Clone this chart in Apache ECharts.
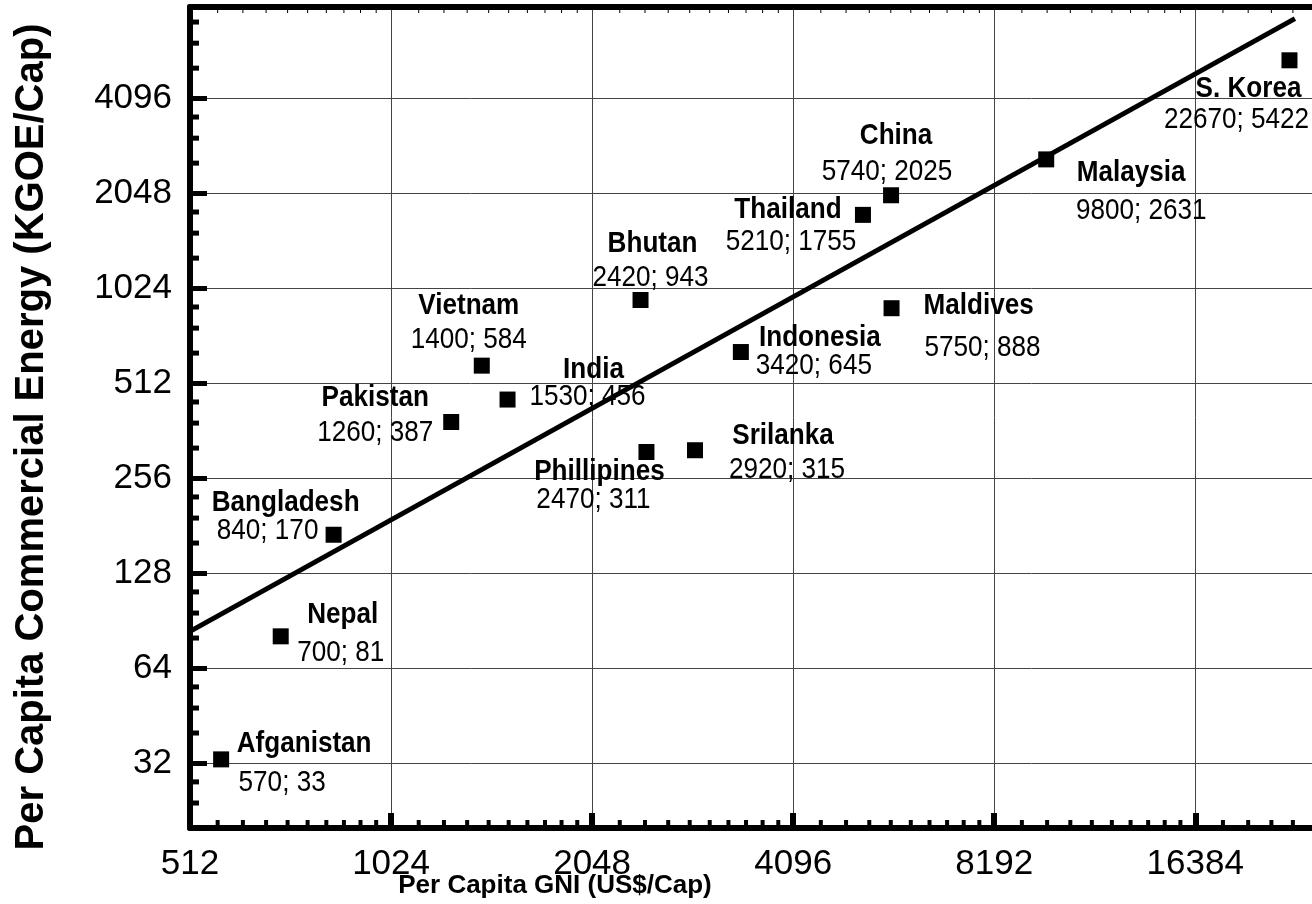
<!DOCTYPE html>
<html><head><meta charset="utf-8">
<script src="https://cdn.jsdelivr.net/npm/echarts@6/dist/echarts.min.js"></script>
<style>html,body{margin:0;padding:0;background:#fff}#c{width:1312px;height:904px}</style>
</head><body><div id="c"></div>
<script>
// ---- data ----
const countries = ['Afganistan','Nepal','Bangladesh','Pakistan','Vietnam','India','Bhutan','Phillipines','Srilanka','Indonesia','Thailand','China','Maldives','Malaysia','S. Korea'];
const gni    = [570, 700, 840, 1260, 1400, 1530, 2420, 2470, 2920, 3420, 5210, 5740, 5750, 9800, 22670];
const energy = [33, 81, 170, 387, 584, 456, 943, 311, 315, 645, 1755, 2025, 888, 2631, 5422];
const trendGni    = [512, 23100];
const trendEnergy = [84, 7350];
const xTickLabels = [512, 1024, 2048, 4096, 8192, 16384];
const yTickLabels = [32, 64, 128, 256, 512, 1024, 2048, 4096];
const xRange = [512, 24500];
const yRange = [20, 8000];

// ---- label layout (offsets in px from each point: name dx,dy ; value dx,dy) ----
const labelLayout = [
  [83,-16, 61,23], [62,-22, 60,16], [-48,-32, -66,-4], [-76,-24, -76,11],
  [-13,-60, -13,-26], [86,-30, 80,-3], [12,-56, 10,-22], [-47,20, -53,48],
  [88,-15, 92,19], [79,-14, 73,14], [-75,-5, -72,27], [5,-60, -4,-24],
  [87,-2, 91,40], [85,13, 95,51], [-41,28, -53,59]
];

// minor tick positions (axis decoration: linear subdivisions inside each doubling)
const xMinor = [], yMinor = [];
for (let b = 512; b < xRange[1]; b *= 2) for (let k = 1; k < 10; k++) { const v = b * (1 + k / 10); if (v < xRange[1]) xMinor.push(v); }
for (let b = 16; b < yRange[1]; b *= 2) for (let k = 1; k < 4; k++) { const v = b * (1 + k / 4); if (v > yRange[0] && v < yRange[1]) yMinor.push(v); }

const tickData = [];
xMinor.forEach(v => { tickData.push([v, yRange[0], 0]); tickData.push([v, yRange[1], 1]); });
yMinor.forEach(v => tickData.push([xRange[0], v, 2]));

const sans = '"Liberation Sans", Arial, Helvetica, sans-serif';
const narrowScale = 0.87;

const chart = echarts.init(document.getElementById('c'), null, {renderer: 'canvas'});
chart.setOption({
  animation: false,
  backgroundColor: '#fff',
  grid: {left: 190, right: 0, top: 7, bottom: 76, containLabel: false},
  xAxis: [{
    type: 'log', logBase: 2, min: xRange[0], max: xRange[1], position: 'bottom',
    axisLine: {lineStyle: {color: '#000', width: 6}},
    axisTick: {inside: true, length: 15, lineStyle: {color: '#000', width: 6}},
    axisLabel: {fontSize: 35, color: '#000', fontFamily: sans, margin: 19, showMaxLabel: false,
      formatter: v => xTickLabels.includes(Math.round(v)) ? String(Math.round(v)) : ''},
    splitLine: {show: true, lineStyle: {color: '#444', width: 1}}
  }, {
    type: 'log', logBase: 2, min: xRange[0], max: xRange[1], position: 'top',
    axisLine: {lineStyle: {color: '#000', width: 6}},
    axisTick: {show: false}, axisLabel: {show: false}, splitLine: {show: false}
  }],
  yAxis: [{
    type: 'log', logBase: 2, min: yRange[0], max: yRange[1], position: 'left',
    axisLine: {lineStyle: {color: '#000', width: 6}},
    axisTick: {inside: true, length: 17, lineStyle: {color: '#000', width: 5}},
    axisLabel: {fontSize: 35, color: '#000', fontFamily: sans, margin: 18, showMinLabel: false, showMaxLabel: false,
      formatter: v => yTickLabels.includes(Math.round(v)) ? String(Math.round(v)) : ''},
    splitLine: {show: true, lineStyle: {color: '#444', width: 1}}
  }],
  graphic: [
    {type: 'text', x: 32, y: 437, rotation: Math.PI / 2,
      style: {text: 'Per Capita Commercial Energy (KGOE/Cap)', fontSize: 40, fontWeight: 'bold', fontFamily: sans, fill: '#000', align: 'center', verticalAlign: 'middle'}},
    {type: 'text', x: 555, y: 886,
      style: {text: 'Per Capita GNI (US$/Cap)', fontSize: 26, fontWeight: 'bold', fontFamily: sans, fill: '#000', align: 'center', verticalAlign: 'middle'}}
  ],
  series: [
    {
      type: 'custom', name: 'minorTicks', silent: true, z: 5,
      data: tickData,
      encode: {x: 0, y: 1},
      renderItem: (params, api) => {
        const kind = api.value(2);
        const p = api.coord([api.value(0), api.value(1)]);
        if (kind === 0) return {type: 'rect', shape: {x: p[0] - 2, y: p[1] - 8, width: 4, height: 8}, style: {fill: '#000'}};
        if (kind === 1) return {type: 'rect', shape: {x: p[0] - 0.5, y: p[1], width: 1, height: 6}, style: {fill: '#000'}};
        return {type: 'rect', shape: {x: p[0], y: p[1] - 2.5, width: 9, height: 5}, style: {fill: '#000'}};
      }
    },
    {
      type: 'line', name: 'trend', data: trendGni.map((g, i) => [g, trendEnergy[i]]),
      showSymbol: false, lineStyle: {color: '#000', width: 5, opacity: 1}, z: 3
    },
    {
      type: 'scatter', name: 'countries', data: gni.map((g, i) => [g, energy[i]]),
      symbol: 'rect', symbolSize: 16, itemStyle: {color: '#000', opacity: 1}, z: 4
    },
    {
      type: 'custom', name: 'labels', silent: true, z: 6,
      data: gni.map((g, i) => [g, energy[i], i]),
      encode: {x: 0, y: 1},
      renderItem: (params, api) => {
        const i = api.value(2);
        const p = api.coord([api.value(0), api.value(1)]);
        const L = labelLayout[i];
        return {type: 'group', children: [
          {type: 'text', x: p[0] + L[0], y: p[1] + L[1], scaleX: narrowScale,
            style: {text: countries[i], fontSize: 30, fontWeight: 'bold', fontFamily: sans, fill: '#000', align: 'center', verticalAlign: 'middle'}},
          {type: 'text', x: p[0] + L[2], y: p[1] + L[3], scaleX: narrowScale,
            style: {text: gni[i] + '; ' + energy[i], fontSize: 30, fontFamily: sans, fill: '#000', align: 'center', verticalAlign: 'middle'}}
        ]};
      }
    }
  ]
});
</script></body></html>
